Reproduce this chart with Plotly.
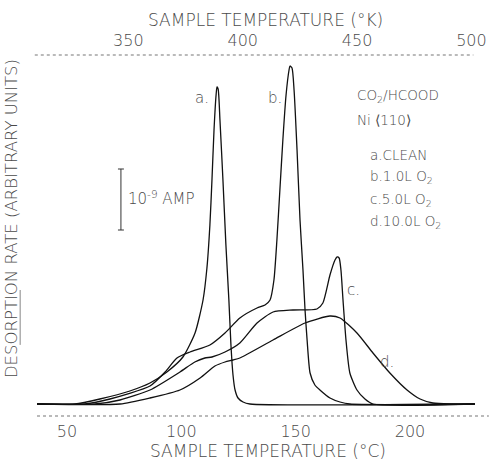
import plotly.graph_objects as go

# Sample temperature (deg C) and desorption rate (arbitrary units)
T_a = [36.9, 53.5, 64.4, 77.5, 86.3, 93.7, 100.7, 106.0, 109.5, 111.2, 112.5, 113.4, 114.3, 115.2, 115.6, 116.1,
       116.9, 118.2, 119.5, 120.8, 121.7, 122.6, 123.5, 124.8, 127.0, 130.0, 228.4]
R_a = [0, 0, 5, 13, 21, 32, 47, 71, 104, 136, 179, 224, 274, 309, 317, 315,
       284, 224, 159, 104, 59, 29, 14, 6, 2, 0, 0]

T_b = [36.9, 57.9, 68.8, 86.3, 92.9, 98.1, 103.8, 112.5, 119.1, 125.6, 133.1, 136.6, 138.8, 140.5, 141.8, 143.1,
       144.4, 145.8, 147.1, 147.5, 148.4, 149.3, 150.6, 151.9, 153.2, 154.1, 155.0, 156.3, 158.4, 160.6, 165.0,
       169.4, 173.7, 228.4]
R_b = [0, 0, 5, 18, 32, 46, 52, 59, 71, 86, 96, 99, 104, 124, 164, 214,
       264, 309, 334, 338, 336, 314, 254, 184, 134, 94, 64, 31, 19, 14, 6,
       2, 0, 0]

T_c = [36.9, 62.2, 73.2, 86.3, 99.4, 105.9, 110.3, 113.4, 119.1, 125.6, 133.1, 140.1, 148.8, 159.3, 161.9, 165.0,
       167.2, 168.1, 169.0, 169.8, 170.7, 172.0, 173.7, 176.8, 180.3, 183.8, 228.4]
R_c = [0, 0, 4, 14, 32, 42, 46, 47, 52, 61, 81, 92, 94, 95, 101, 129,
       144, 147, 146, 134, 104, 64, 31, 14, 5, 0, 0]

T_d = [36.9, 73.2, 86.3, 99.4, 108.2, 114.7, 119.1, 122.6, 125.6, 140.1, 154.1, 165.0, 169.4, 176.8, 183.8,
       191.2, 198.7, 204.4, 210.0, 217.5, 228.4]
R_d = [0, 0, 6, 14, 26, 38, 42, 44, 46, 64, 81, 88, 86, 71, 51,
       31, 14, 5, 1, 0, 0]

x_ticks_C = [50, 100, 150, 200]
x_ticks_K = [350, 400, 450, 500]
legend_lines = ["CO<sub>2</sub>/HCOOD", "Ni ⟨110⟩", "a.CLEAN", "b.1.0L O<sub>2</sub>",
                "c.5.0L O<sub>2</sub>", "d.10.0L O<sub>2</sub>"]

FONT = "DejaVu Sans"
TXT = "#4a4a4a"
xr = [36.9, 230.6]
yr = [-12, 349]

fig = go.Figure()
for T, R in [(T_a, R_a), (T_b, R_b), (T_c, R_c), (T_d, R_d)]:
    fig.add_trace(go.Scatter(x=T, y=R, mode="lines",
                             line=dict(color="#111111", width=1.3, shape="spline", smoothing=0.6),
                             showlegend=False, hoverinfo="skip"))

# invisible trace for top Kelvin axis
fig.add_trace(go.Scatter(x=[xr[0] + 273.15, xr[1] + 273.15], y=[0, 0], xaxis="x2",
                         mode="lines", line=dict(width=0), showlegend=False, hoverinfo="skip"))

fig.update_layout(
    width=490, height=462,
    margin=dict(l=37, r=10, t=55, b=46, autoexpand=False),
    paper_bgcolor="white", plot_bgcolor="white",
    font=dict(family=FONT, color=TXT, size=15, weight=200),
    xaxis=dict(range=xr, tickvals=x_ticks_C, ticks="", showgrid=False, zeroline=False, automargin=False,
               showline=False, tickfont=dict(size=16, color=TXT, weight=200), ticklabelstandoff=4),
    xaxis2=dict(range=[xr[0] + 273.15, xr[1] + 273.15], overlaying="x", side="top", automargin=False,
                tickvals=x_ticks_K, ticks="", showgrid=False, zeroline=False, showline=False,
                tickfont=dict(size=16, color=TXT, weight=200), ticklabelstandoff=5),
    yaxis=dict(range=yr, showticklabels=False, ticks="", showgrid=False, zeroline=False, showline=False,
               automargin=False),
)

# dashed axis lines
fig.add_shape(type="line", xref="paper", yref="paper", x0=0, x1=1.02, y0=0, y1=0,
              line=dict(color="#777777", width=1.2, dash="dot"))
fig.add_shape(type="line", xref="paper", yref="paper", x0=-0.005, x1=0.985, y0=1, y1=1,
              line=dict(color="#777777", width=1.2, dash="dot"))
# faint left axis remnant
fig.add_shape(type="line", xref="paper", yref="paper", x0=-0.038, x1=-0.038, y0=0.197, y1=0.349,
              line=dict(color="#888888", width=1))

# axis titles
fig.add_annotation(xref="paper", yref="paper", x=0.521, y=0, yshift=-35, xanchor="center", yanchor="middle",
                   text="SAMPLE TEMPERATURE (°C)",
                   showarrow=False, font=dict(size=17, color=TXT, weight=200))
fig.add_annotation(xref="paper", yref="paper", x=0.515, y=1, yshift=35, xanchor="center", yanchor="middle",
                   text="SAMPLE TEMPERATURE (°K)",
                   showarrow=False, font=dict(size=17, color=TXT, weight=200))
fig.add_annotation(xref="paper", yref="paper", x=-0.056, y=0.546, xanchor="center", yanchor="middle",
                   text="DESORPTION RATE (ARBITRARY UNITS)",
                   textangle=-90, showarrow=False, font=dict(size=16.5, color=TXT, weight=200))

# curve labels
for lab, tx, ry in [("a.", 109.0, 306), ("b.", 140.9, 306), ("c.", 175.1, 114), ("d.", 189.9, 42)]:
    fig.add_annotation(x=tx, y=ry, text=lab, showarrow=False, font=dict(size=15, color=TXT, weight=200))

# scale bar  (10^-9 A)
fig.add_shape(type="line", x0=73.6, x1=73.6, y0=174, y1=235, line=dict(color="#333333", width=1))
fig.add_shape(type="line", x0=72.3, x1=74.9, y0=235, y1=235, line=dict(color="#333333", width=1))
fig.add_shape(type="line", x0=72.3, x1=74.9, y0=174, y1=174, line=dict(color="#333333", width=1))
fig.add_annotation(x=76.0, y=206, text="10<sup>-9</sup> AMP", showarrow=False, xanchor="left",
                   font=dict(size=15, color=TXT, weight=200))

# sample legend text
ys = [308, 284, 249, 227, 204, 182]
xs = [175.9, 175.9, 181.6, 181.6, 181.6, 181.6]
for t, xx, yy in zip(legend_lines, xs, ys):
    fig.add_annotation(x=xx, y=yy, text=t, showarrow=False, xanchor="left",
                       font=dict(size=13.5, color=TXT, weight=200))

# remove the default 8px page margin so the figure fills the window
fig.write_html("out.html", config={"displayModeBar": False},
               post_script="document.body.style.margin='0';")
